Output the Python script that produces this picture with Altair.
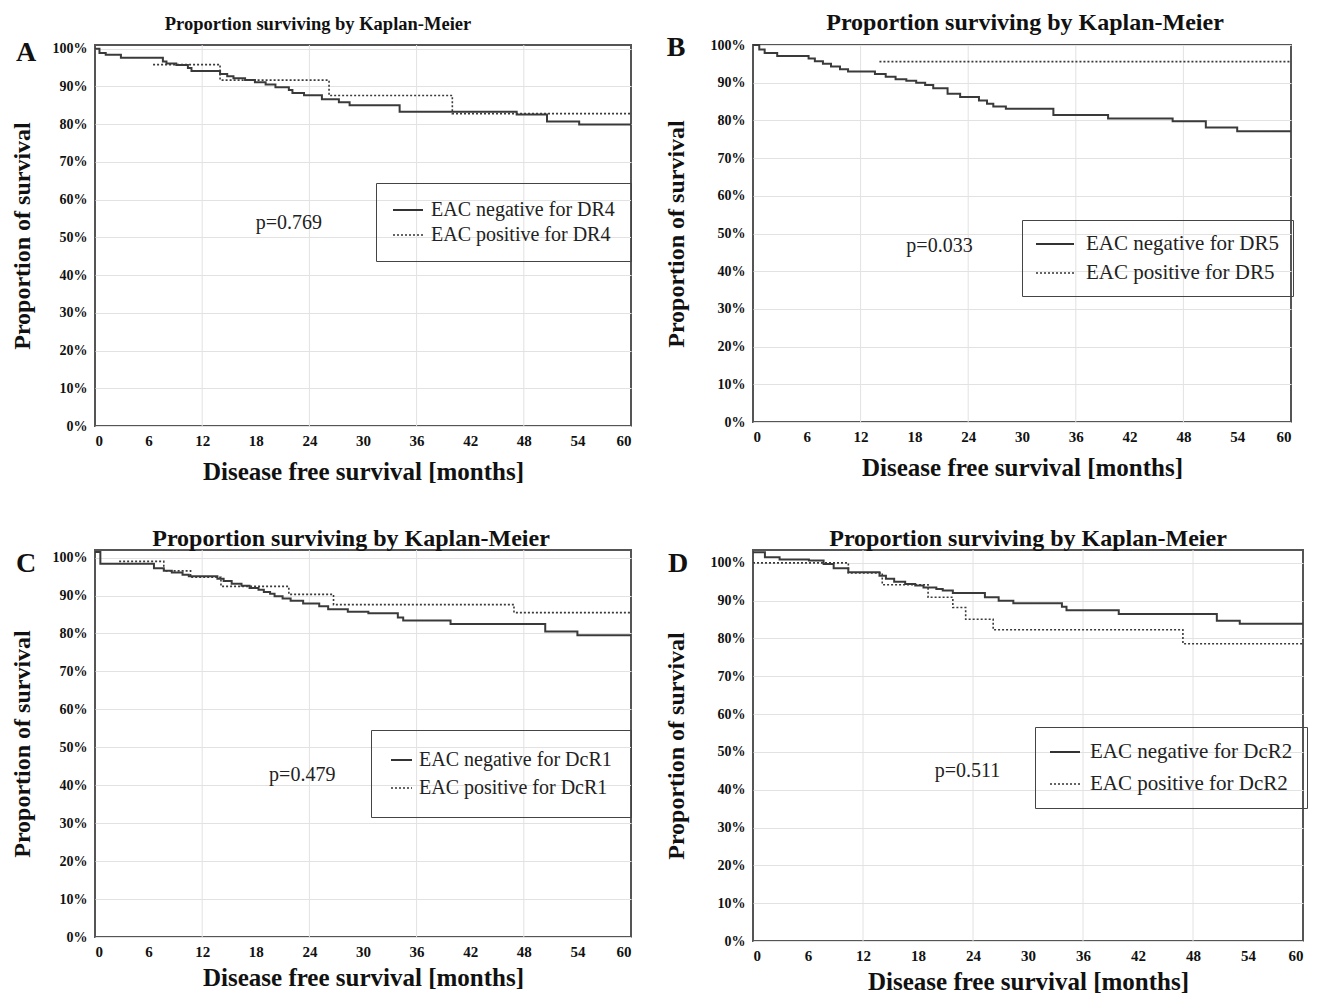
import altair as alt
import pandas as pd

SERIF = "Liberation Serif"

# ---------------- data (months, % surviving) ----------------
a_neg_t = [0, 0.5, 1.2, 2.9, 7.6, 8.0, 9.1, 10.4, 10.8, 14.0, 14.8, 15.5, 16.8, 17.9, 19.1, 20.2, 21.7, 22.1, 23.4, 25.4, 27.3, 28.5, 34.1, 47.2, 50.6, 54.2, 60]
a_neg_s = [100, 98.9, 98.4, 97.6, 96.6, 96.1, 95.7, 94.9, 94.1, 93.3, 92.7, 92.2, 91.7, 91.1, 90.5, 89.8, 89.1, 88.3, 87.7, 86.6, 85.8, 85.0, 83.3, 82.6, 80.7, 79.9, 79.9]
a_pos_t = [6.5, 14.0, 26.2, 40.0, 60]
a_pos_s = [95.8, 91.7, 87.6, 82.8, 82.8]

b_neg_t = [0, 0.7, 1.3, 2.7, 6.2, 6.9, 7.8, 8.7, 9.7, 10.6, 13.6, 14.8, 15.9, 17.1, 18.2, 19.2, 20.1, 21.7, 23.1, 25.2, 26.1, 26.8, 28.2, 33.5, 39.6, 46.8, 50.5, 54.0, 60]
b_neg_s = [100, 98.8, 97.9, 97.1, 96.4, 95.7, 95.0, 94.3, 93.6, 93.0, 92.3, 91.6, 90.9, 90.5, 90.0, 89.4, 88.5, 87.1, 86.2, 85.3, 84.4, 83.7, 83.1, 81.4, 80.5, 79.8, 78.1, 77.1, 77.1]
b_pos_t = [14.1, 60]
b_pos_s = [95.6, 95.6]

c_neg_t = [0, 0.6, 6.6, 7.7, 8.6, 9.8, 10.5, 13.7, 14.4, 15.3, 16.4, 17.3, 18.3, 18.9, 19.6, 20.1, 21.0, 21.9, 23.3, 25.1, 26.1, 28.3, 30.6, 33.9, 34.5, 39.8, 50.4, 54.0, 60]
c_neg_s = [101.5, 98.4, 97.2, 96.5, 96.1, 95.5, 95.1, 94.4, 93.8, 93.1, 92.6, 92.0, 91.5, 90.9, 90.5, 89.8, 89.2, 88.6, 87.9, 87.2, 86.4, 85.7, 85.3, 84.2, 83.4, 82.5, 80.5, 79.5, 79.5]
c_pos_t = [2.7, 7.7, 10.7, 14.1, 21.7, 26.7, 46.9, 60]
c_pos_s = [99.0, 96.5, 94.8, 92.4, 90.3, 87.6, 85.5, 85.5]

d_neg_t = [0, 1.3, 2.9, 6.1, 7.7, 8.8, 10.4, 13.8, 14.5, 15.4, 16.6, 17.7, 18.6, 20.0, 20.7, 21.8, 25.3, 26.8, 28.4, 33.7, 34.2, 39.9, 50.6, 53.1, 60]
d_neg_s = [102.8, 101.5, 100.9, 100.6, 99.7, 98.6, 97.5, 96.6, 95.8, 95.0, 94.4, 94.0, 93.5, 93.1, 92.7, 92.0, 90.9, 90.0, 89.3, 88.4, 87.5, 86.5, 84.7, 83.9, 83.9]
d_pos_t = [0, 10.4, 14.1, 19.1, 21.8, 23.2, 26.2, 46.9, 60]
d_pos_s = [100, 97.3, 94.2, 90.9, 88.2, 85.1, 82.3, 78.6, 78.6]

markers = ["DR4", "DR5", "DcR1", "DcR2"]
letters = ["A", "B", "C", "D"]
p_values = ["p=0.769", "p=0.033", "p=0.479", "p=0.511"]

x_ticks = [0, 6, 12, 18, 24, 30, 36, 42, 48, 54, 60]
y_ticks = [0, 10, 20, 30, 40, 50, 60, 70, 80, 90, 100]
x_grid = [12, 24, 36, 48]

series = [
    (a_neg_t, a_neg_s, a_pos_t, a_pos_s),
    (b_neg_t, b_neg_s, b_pos_t, b_pos_s),
    (c_neg_t, c_neg_s, c_pos_t, c_pos_s),
    (d_neg_t, d_neg_s, d_pos_t, d_pos_s),
]

# layout / styling per panel (not data)
layout = [
    dict(w=536, h=381, ymax=101.0, title_fs=18.5, title_dx=-45, title_dy=-4, title_off=2, p_at=(21.7, 53.8),
         ytp=18, xtp=11, lx=281, ly=138, pad=16, sym="M-1,0H2", off=17, rowpad=4, lfs=20,
         letter=(-69, 8)),
    dict(w=538, h=377, ymax=100.0, title_fs=24, title_dx=3, title_dy=0, title_off=-1, p_at=(20.8, 46.7),
         ytp=22, xtp=11, lx=269, ly=175, pad=13, sym="M-1,0H2.8", off=29, rowpad=8, lfs=21,
         letter=(-77, 3)),
    dict(w=536, h=387, ymax=102.0, title_fs=24, title_dx=-12, title_dy=0, title_off=-3, p_at=(23.2, 42.8),
         ytp=18, xtp=6, lx=276, ly=180, pad=19, sym="M-1,0H1.1", off=7, rowpad=7, lfs=20,
         letter=(-69, 14)),
    dict(w=550, h=391, ymax=103.4, title_fs=24, title_dx=0, title_dy=0, title_off=-3, p_at=(23.4, 45.0),
         ytp=22, xtp=6, lx=282, ly=177, pad=14, sym="M-1,0H2", off=19, rowpad=11, lfs=21,
         letter=(-75, 14)),
]

X_TITLE = "Disease free survival [months]"
Y_TITLE = "Proportion of survival"


def x_axis(tp):
    return alt.Axis(
        values=x_ticks, grid=False, domain=False, tickSize=0, labelPadding=7, labelFont=SERIF,
        labelFontSize=15, labelFontWeight="bold", labelColor="#111", titleFont=SERIF, titleFontSize=25,
        titleFontWeight="bold", titleColor="#111", titlePadding=tp)


def y_axis(tp):
    return alt.Axis(
        values=y_ticks, labelExpr="datum.value + '%'", grid=True, gridColor="#e2e2e2", gridWidth=1,
        domain=False, tickSize=0, labelPadding=8, labelFont=SERIF, labelFontSize=14,
        labelFontWeight="bold", labelColor="#111", titleFont=SERIF, titleFontSize=24,
        titleFontWeight="bold", titleColor="#111", titlePadding=tp)


def panel(i):
    nt, ns, pt, ps = series[i]
    L = layout[i]
    neg_lab = f"EAC negative for {markers[i]}"
    pos_lab = f"EAC positive for {markers[i]}"
    df = pd.concat([
        pd.DataFrame({"t": nt, "s": ns, "g": neg_lab}),
        pd.DataFrame({"t": pt, "s": ps, "g": pos_lab}),
    ])
    xs = alt.Scale(domain=[0, 60], nice=False, zero=False)
    ys = alt.Scale(domain=[0, L["ymax"]], nice=False)
    X = dict(scale=xs, title=X_TITLE, axis=x_axis(L["xtp"]))
    Y = dict(scale=ys, title=Y_TITLE, axis=y_axis(L["ytp"]))

    lines = alt.Chart(df).mark_line(interpolate="step-after", color="#3a3a3a").encode(
        x=alt.X("t:Q", **X),
        y=alt.Y("s:Q", **Y),
        strokeDash=alt.StrokeDash("g:N", scale=alt.Scale(domain=[neg_lab, pos_lab], range=[[1, 0], [2, 2]]),
                                  legend=alt.Legend(
                                      title=None, orient="none", legendX=L["lx"], legendY=L["ly"],
                                      strokeColor="#444", padding=L["pad"], symbolType=L["sym"],
                                      symbolSize=400, symbolStrokeWidth=1.6,
                                      symbolStrokeColor="#333", symbolFillColor="transparent",
                                      labelFont=SERIF, labelFontSize=L["lfs"],
                                      labelColor="#222", labelOffset=L["off"], rowPadding=L["rowpad"],
                                      labelLimit=400)),
        strokeWidth=alt.StrokeWidth("g:N", scale=alt.Scale(domain=[neg_lab, pos_lab], range=[2.0, 1.6]),
                                    legend=None),
    )

    gx = alt.Chart(pd.DataFrame({"t": x_grid})).mark_rule(color="#e2e2e2", strokeWidth=1).encode(
        x=alt.X("t:Q", **X))

    ptxt = alt.Chart(pd.DataFrame({"t": [L["p_at"][0]], "s": [L["p_at"][1]], "lab": [p_values[i]]})).mark_text(
        font=SERIF, fontSize=20, color="#222").encode(
        x=alt.X("t:Q", **X), y=alt.Y("s:Q", **Y), text="lab:N")

    letter = alt.Chart(pd.DataFrame({"lab": [letters[i]]})).mark_text(
        font=SERIF, fontSize=28, fontWeight="bold", color="#111").encode(
        x=alt.value(L["letter"][0]), y=alt.value(L["letter"][1]), text="lab:N")

    title_kw = dict(font=SERIF, fontSize=L["title_fs"], fontWeight="bold", color="#111",
                    anchor="middle", dx=L["title_dx"], offset=L["title_off"])
    if L["title_dy"]:
        title_kw["dy"] = L["title_dy"]

    return alt.layer(gx, lines, ptxt, letter).properties(
        width=L["w"], height=L["h"],
        title=alt.TitleParams("Proportion surviving by Kaplan-Meier", **title_kw),
    ).resolve_scale(strokeDash="independent", strokeWidth="independent")


top = alt.hconcat(panel(0), panel(1), spacing=27).resolve_scale(
    strokeDash="independent", strokeWidth="independent").resolve_legend(strokeDash="independent")
bottom = alt.hconcat(panel(2), panel(3), spacing=27).resolve_scale(
    strokeDash="independent", strokeWidth="independent").resolve_legend(strokeDash="independent")

chart = alt.vconcat(top, bottom, spacing=40).resolve_scale(
    strokeDash="independent", strokeWidth="independent").resolve_legend(
    strokeDash="independent").configure_view(stroke="#555", strokeWidth=2).properties(
    padding={"left": 1, "top": 2, "right": 0, "bottom": 0}, background="white")

chart.save("out.html", embed_options={"renderer": "svg", "actions": False})
